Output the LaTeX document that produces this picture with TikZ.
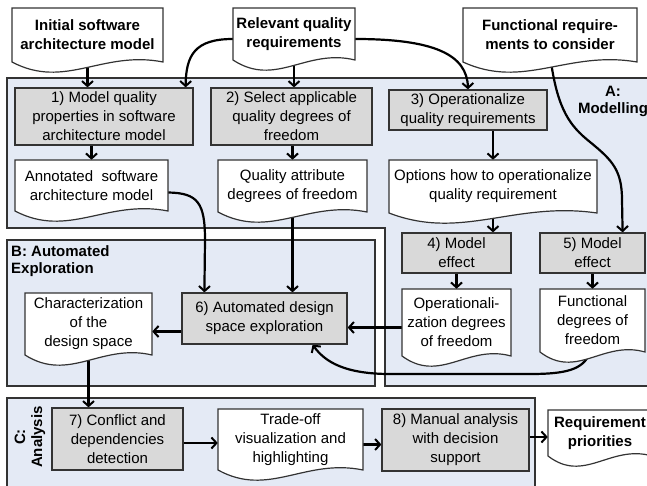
\documentclass[tikz,border=0pt]{standalone}
\usepackage{fontspec}
\setmainfont{Liberation Sans}
\usetikzlibrary{arrows.meta}
\pgfdeclarelayer{bg}
\pgfdeclarelayer{arr}
\pgfsetlayers{bg,arr,main}
\definecolor{regfill}{HTML}{E4EAF5}
\definecolor{boxfill}{HTML}{D9D9D9}
\definecolor{edge}{HTML}{333333}
\tikzset{
  region/.style={fill=regfill, draw=edge, line width=1.5pt},
  stepbox/.style={rectangle, fill=boxfill, draw=edge, line width=1.2pt, align=center, inner sep=1pt, font=\fontsize{15}{19}\selectfont},
  docshape/.style={fill=white, draw=edge, line width=1.2pt},
  doctext/.style={rectangle, draw=none, align=center, inner sep=1pt, font=\fontsize{15}{19}\selectfont},
  docbold/.style={doctext, font=\fontsize{15}{19}\selectfont\bfseries},
  lab/.style={align=center, inner sep=1pt, font=\fontsize{15}{17}\selectfont\bfseries},
  conn/.style={line width=2.2pt, -{Straight Barb[length=5pt,width=11pt,line width=2pt]}},
}
\newcommand\stepnode[6]{\node[stepbox, minimum width={#3-#2}, minimum height={#5-#4}] (#1) at ({(#2+#3)/2},{(#4+#5)/2}) {#6};}
\newcommand\docnode[7]{%
  \filldraw[docshape] (#2,#4) -- (#3,#4) -- (#3,#5) .. controls ({#2+0.6*(#3-#2)},{#5-12}) and ({#2+0.35*(#3-#2)},{#5+28}) .. (#2,#5) -- cycle;
  \node[#6, minimum width={#3-#2}, minimum height={#5-#4}] (#1) at ({(#2+#3)/2},{(#4+#5)/2}) {#7};}
\begin{document}
\begin{tikzpicture}[x=1pt,y=-1pt]
\useasboundingbox (0,0) rectangle (647,486);
\begin{pgfonlayer}{bg}
  \draw[region] (7,78) -- (652,78) -- (652,386) -- (385,386) -- (385,228) -- (7,228) -- cycle;
  \draw[region] (7,240) rectangle (375,386);
  \draw[region] (7,398) rectangle (535,492);
\end{pgfonlayer}
\node[lab] (alab) at (613,101) {A:\\Modelling};
\node[lab, anchor=north west, align=left] (blab) at (10,244) {B: Automated\\Exploration};
\node[lab, rotate=90] (clab) at (30,437) {C:\\Analysis};
% documents
\docnode{init}{12}{163}{8}{62}{docbold}{Initial software\\architecture model}
\docnode{relev}{233}{355}{8}{60}{docbold}{Relevant quality\\requirements}
\docnode{func}{463}{637}{8}{62}{docbold}{Functional require-\\ments to consider}
\docnode{annot}{15}{168}{160}{211}{doctext}{Annotated\ \ software\\architecture model}
\docnode{qual}{218}{367}{160}{212}{doctext}{Quality attribute\\degrees of freedom}
\docnode{opt}{389}{597}{160}{213}{doctext}{Options how to operationalize\\quality requirement}
\docnode{opdoc}{402}{511}{289}{356}{doctext}{Operationali-\\zation degrees\\of freedom}
\docnode{funcdeg}{540}{645}{289}{352}{doctext}{Functional\\degrees of\\freedom}
\docnode{char}{25}{152}{293}{355}{doctext}{Characterization\\of the\\design space}
\docnode{trade}{218}{363}{409}{470}{doctext}{Trade-off\\visualization and\\highlighting}
\docnode{req}{548}{652}{410}{456}{docbold}{Requirement\\priorities}
% steps
\stepnode{b1}{15}{193}{88}{145}{1) Model quality\\properties in software\\architecture model}
\stepnode{b2}{211}{372}{88}{145}{2) Select applicable\\quality degrees of\\freedom}
\stepnode{b3}{389}{547}{90}{130}{3) Operationalize\\quality requirements}
\stepnode{b4}{402}{511}{233}{273}{4) Model\\effect}
\stepnode{b5}{540}{645}{233}{273}{5) Model\\effect}
\stepnode{b6}{182}{347}{293}{344}{6) Automated design\\space exploration}
\stepnode{b7}{52}{183}{408}{470}{7) Conflict and\\dependencies\\detection}
\stepnode{b8}{382}{529}{409}{471}{8) Manual analysis\\with decision\\support}
% connectors
\begin{pgfonlayer}{arr}
\draw[conn] (init.center) -- (init.center |- b1.north);
\draw[conn] ([yshift=-5pt]relev.west) .. controls (195,39) and (186,55) .. ([xshift=-8pt]b1.north east);
\draw[conn] (relev.center) -- (relev.center |- b2.north);
\draw[conn] ([yshift=-5pt]relev.east) .. controls (435,39) and (467,55) .. (b3.north);
\draw[conn] (func.center) -- (551,62) .. controls (558,110) and (570,126) .. (590,142) .. controls (612,160) and (622,170) .. (622,200) -- ([xshift=-23pt]b5.north east);
\draw[conn] (annot.north |- b1.south) -- (annot.north);
\draw[conn] (qual.north |- b2.south) -- (qual.north);
\draw[conn] (opt.north |- b3.south) -- (opt.north);
\draw[conn] (opt.center) -- (opt.center |- b4.north);
\draw[conn] (b4.south) -- (b4.south |- opdoc.north);
\draw[conn] (b5.south) -- (b5.south |- funcdeg.north);
\draw[conn] ([yshift=-7pt]annot.east) .. controls (198,193) and (205,203) .. (205,240) -- ([xshift=23pt]b6.north west);
\draw[conn] (qual.center) -- (qual.center |- b6.north);
\draw[conn] ([yshift=-5pt]opdoc.west) -- ([yshift=-5pt]opdoc.west -| b6.east);
\draw[conn] ([xshift=-3pt]funcdeg.center) -- (590,352) .. controls (584,370) and (565,374) .. (530,374) -- (390,374) .. controls (345,374) and (325,362) .. ([xshift=-35pt]b6.south east);
\draw[conn] ([yshift=-13pt]b6.west) -- ([yshift=-13pt]b6.west -| char.east);
\draw[conn] (char.center) -- (char.center |- b7.north);
\draw[conn] ([yshift=-4pt]b7.east) -- ([yshift=-4pt]b7.east -| trade.west);
\draw[conn] ([yshift=-5pt]trade.east) -- ([yshift=-5pt]trade.east -| b8.west);
\draw[conn] ([yshift=3pt]b8.east) -- ([yshift=3pt]b8.east -| req.west);
\end{pgfonlayer}
\end{tikzpicture}
\end{document}
